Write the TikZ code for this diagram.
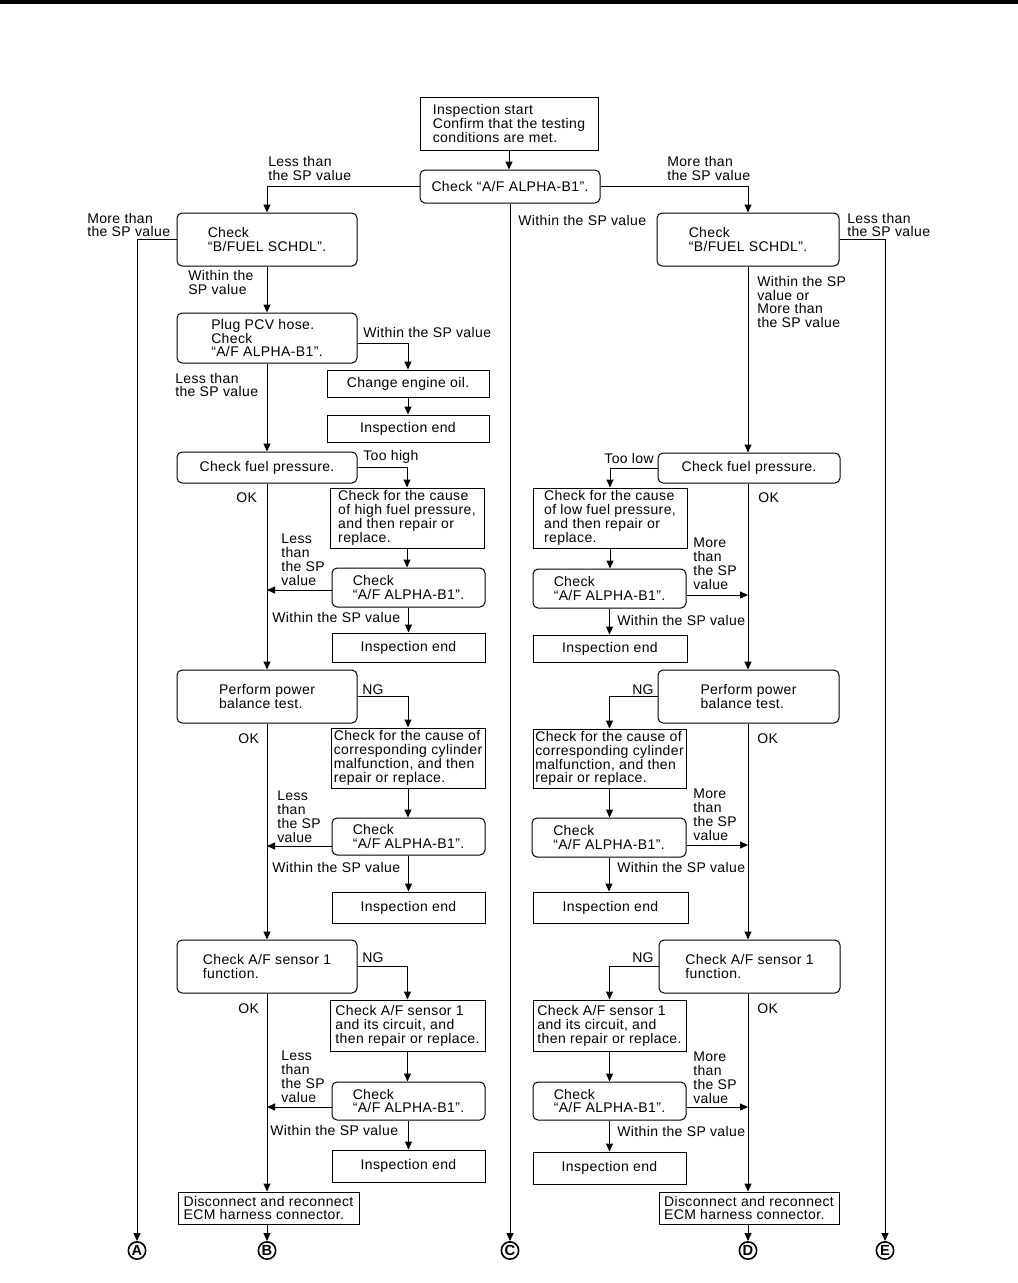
\documentclass[tikz,border=0pt]{standalone}
\usepackage{fontspec}
\setmainfont{Liberation Sans}[LetterSpace=2.7]
\usetikzlibrary{arrows.meta,calc}
\begin{document}
\begin{tikzpicture}[x=0.75pt,y=-0.75pt,
  font=\fontsize{10.5}{10.4}\selectfont,
  bx/.style 2 args={minimum width=#1*0.75pt, minimum height=#2*0.75pt},
  rbox/.style={draw, rounded corners=3.75pt, line width=0.75pt, align=left, inner sep=0pt},
  sbox/.style={draw, line width=0.75pt, align=left, inner sep=0pt},
  lbl/.style={anchor=west, align=left, inner sep=0pt},
  lble/.style={anchor=east, align=right, inner sep=0pt},
  arr/.style={-{Triangle[length=6pt,width=5.25pt]}, line width=0.75pt},
  ln/.style={line width=0.75pt},
  letter/.style={circle, draw, line width=1.2pt, inner sep=0pt, minimum size=13pt, font=\bfseries\fontsize{11}{11}\selectfont}]
\useasboundingbox (0,0) rectangle (1018,1283);
\fill (0,0) rectangle (1018,4);

% ---------- top ----------
\node[sbox, bx={178}{53}] (start) at (509,123.5) {Inspection start\\Confirm that the testing\\conditions are met.};
\node[rbox, bx={180}{33}] (chk0) at (510,186.5) {Check “A/F ALPHA-B1”.};

% ---------- left column ----------
\node[rbox, bx={180}{53}] (bfL) at (267,239.5) {Check\\“B/FUEL SCHDL”.};
\node[rbox, bx={180}{50}] (pcv) at (267,338) {Plug PCV hose.\\Check\\“A/F ALPHA-B1”.};
\node[sbox, bx={162}{27}] (oil) at (408,383.5) {Change engine oil.};
\node[sbox, bx={162}{27}] (endL0) at (408,428.5) {Inspection end};
\node[rbox, bx={180}{31}] (fpL) at (267,467.5) {Check fuel pressure.};
\node[sbox, bx={154}{60}] (hiL) at (407,518) {Check for the cause\\of high fuel pressure,\\and then repair or\\replace.};
\node[rbox, bx={153}{39}] (caL1) at (408.5,587.5) {Check\\“A/F ALPHA-B1”.};
\node[sbox, bx={153}{29}] (endL1) at (408.5,647.5) {Inspection end};
\node[rbox, bx={180}{53}] (pbL) at (267,696.5) {Perform power\\balance test.};
\node[sbox, bx={154}{60}] (cyL) at (408,758) {Check for the cause of\\corresponding cylinder\\malfunction, and then\\repair or replace.};
\node[rbox, bx={153}{37}] (caL2) at (408.5,836.5) {Check\\“A/F ALPHA-B1”.};
\node[sbox, bx={153}{31}] (endL2) at (408.5,907.5) {Inspection end};
\node[rbox, bx={180}{53}] (sfL) at (267,966.5) {Check A/F sensor 1\\function.};
\node[sbox, bx={155}{51}] (scL) at (407.5,1025.5) {Check A/F sensor 1\\and its circuit, and\\then repair or replace.};
\node[rbox, bx={153}{38}] (caL3) at (408.5,1101) {Check\\“A/F ALPHA-B1”.};
\node[sbox, bx={153}{32}] (endL3) at (408.5,1166) {Inspection end};
\node[sbox, bx={181}{32}] (dcL) at (268.5,1208) {Disconnect and reconnect\\ECM harness connector.};

% ---------- right column ----------
\node[rbox, bx={182}{53}] (bfR) at (748,239.5) {Check\\“B/FUEL SCHDL”.};
\node[rbox, bx={182}{30}] (fpR) at (749,468) {Check fuel pressure.};
\node[sbox, bx={154}{60}] (loR) at (610,518) {Check for the cause\\of low fuel pressure,\\and then repair or\\replace.};
\node[rbox, bx={153}{39}] (caR1) at (609.5,588.5) {Check\\“A/F ALPHA-B1”.};
\node[sbox, bx={154}{27}] (endR1) at (610,648.5) {Inspection end};
\node[rbox, bx={181}{53}] (pbR) at (748.5,696.5) {Perform power\\balance test.};
\node[sbox, bx={153}{59}] (cyR) at (609.5,758.5) {Check for the cause of\\corresponding cylinder\\malfunction, and then\\repair or replace.};
\node[rbox, bx={154}{39}] (caR2) at (609,837.5) {Check\\“A/F ALPHA-B1”.};
\node[sbox, bx={155}{31}] (endR2) at (610.5,907.5) {Inspection end};
\node[rbox, bx={181}{53}] (sfR) at (749.5,966.5) {Check A/F sensor 1\\function.};
\node[sbox, bx={153}{51}] (scR) at (609.5,1025.5) {Check A/F sensor 1\\and its circuit, and\\then repair or replace.};
\node[rbox, bx={153}{38}] (caR3) at (609.5,1101) {Check\\“A/F ALPHA-B1”.};
\node[sbox, bx={153}{32}] (endR3) at (609.5,1168) {Inspection end};
\node[sbox, bx={180}{32}] (dcR) at (749,1208) {Disconnect and reconnect\\ECM harness connector.};

% ---------- end letters ----------
\node[letter] (A) at (137,1250.5) {A};
\node[letter] (B) at (267,1250.5) {B};
\node[letter] (C) at (510,1250.5) {C};
\node[letter] (D) at (748,1250.5) {D};
\node[letter] (E) at (885,1250.5) {E};

% junctions on main lines
\coordinate (jL1) at (267,590);
\coordinate (jL2) at (267,846);
\coordinate (jL3) at (267,1107);
\coordinate (jR1) at (748,595);
\coordinate (jR2) at (748,845);
\coordinate (jR3) at (748,1107);

% ---------- connectors: top ----------
\draw[arr] (start.south) -- (start.south |- chk0.north);
\draw[arr] (chk0.west) -| (bfL.north);
\draw[arr] (chk0.east) -| (bfR.north);
\draw[arr] (chk0.south) -- (C.north);
\draw[arr] (bfL.west) -| (A.north);
\draw[arr] (bfR.east) -| (E.north);

% ---------- connectors: left ----------
\draw[arr] (bfL.south) -- (bfL.south |- pcv.north);
\draw[arr] ($(pcv.east)+(0,5)$) -| (oil.north);
\draw[arr] (oil.south) -- (oil.south |- endL0.north);
\draw[arr] (pcv.south) -- (pcv.south |- fpL.north);
\draw[arr] (fpL.east) -| (hiL.north);
\draw[arr] (hiL.south) -- (hiL.south |- caL1.north);
\draw[arr] (caL1.west |- jL1) -- (jL1);
\draw[arr] (caL1.south) -- (caL1.south |- endL1.north);
\draw[arr] (fpL.south) -- (fpL.south |- pbL.north);
\draw[arr] (pbL.east) -| (cyL.north);
\draw[arr] (cyL.south) -- (cyL.south |- caL2.north);
\draw[arr] (caL2.west |- jL2) -- (jL2);
\draw[arr] (caL2.south) -- (caL2.south |- endL2.north);
\draw[arr] (pbL.south) -- (pbL.south |- sfL.north);
\draw[arr] (sfL.east) -| (scL.north);
\draw[arr] (scL.south) -- (scL.south |- caL3.north);
\draw[arr] (caL3.west |- jL3) -- (jL3);
\draw[arr] (caL3.south) -- (caL3.south |- endL3.north);
\draw[arr] (sfL.south) -- (sfL.south |- dcL.north);
\draw[arr] (B.north |- dcL.south) -- (B.north);

% ---------- connectors: right ----------
\draw[arr] (bfR.south) -- (bfR.south |- fpR.north);
\draw[arr] (fpR.west) -| (loR.north);
\draw[arr] (loR.south) -- (loR.south |- caR1.north);
\draw[arr] (caR1.east |- jR1) -- (jR1);
\draw[arr] (caR1.south) -- (caR1.south |- endR1.north);
\draw[arr] (bfR.south |- fpR.south) -- (bfR.south |- pbR.north);
\draw[arr] (pbR.west) -| (cyR.north);
\draw[arr] (cyR.south) -- (cyR.south |- caR2.north);
\draw[arr] (caR2.east |- jR2) -- (jR2);
\draw[arr] (caR2.south) -- (caR2.south |- endR2.north);
\draw[arr] (bfR.south |- pbR.south) -- (bfR.south |- sfR.north);
\draw[arr] (sfR.west) -| (scR.north);
\draw[arr] (scR.south) -- (scR.south |- caR3.north);
\draw[arr] (caR3.east |- jR3) -- (jR3);
\draw[arr] (caR3.south) -- (caR3.south |- endR3.north);
\draw[arr] (bfR.south |- sfR.south) -- (bfR.south |- dcR.north);
\draw[arr] (D.north |- dcR.south) -- (D.north);

% ---------- labels ----------
\node[lbl] (t1) at (268,168.5) {Less than\\the SP value};
\node[lbl] (t2) at (667,168.5) {More than\\the SP value};
\node[lbl] (t3) at (518,220) {Within the SP value};
\node[lbl] (t4) at (87,225) {More than\\the SP value};
\node[lbl] (t5) at (847,225) {Less than\\the SP value};
\node[lbl] (t6) at (188,282.5) {Within the\\SP value};
\node[lbl] (t7) at (757,302) {Within the SP\\value or\\More than\\the SP value};
\node[lbl] (t8) at (363,332) {Within the SP value};
\node[lbl] (t9) at (175,385) {Less than\\the SP value};
\node[lbl] (t10) at (363,457) {Too high};
\node[lble] (t11) at (654,458) {Too low};
\node[lbl] (t12) at (236,498) {OK};
\node[lbl] (t13) at (758,498) {OK};
\node[lbl] (t14) at (281,559.5) {Less\\than\\the SP\\value};
\node[lbl] (t15) at (693,564) {More\\than\\the SP\\value};
\node[lbl] (t16) at (272,617) {Within the SP value};
\node[lbl] (t17) at (617,620) {Within the SP value};
\node[lbl] (t18) at (362,690) {NG};
\node[lbl] (t19) at (632,690) {NG};
\node[lbl] (t20) at (238,739) {OK};
\node[lbl] (t21) at (757,739) {OK};
\node[lbl] (t22) at (277,817) {Less\\than\\the SP\\value};
\node[lbl] (t23) at (693,815) {More\\than\\the SP\\value};
\node[lbl] (t24) at (272,867) {Within the SP value};
\node[lbl] (t25) at (617,867) {Within the SP value};
\node[lbl] (t26) at (362,958) {NG};
\node[lbl] (t27) at (632,958) {NG};
\node[lbl] (t28) at (238,1009) {OK};
\node[lbl] (t29) at (757,1009) {OK};
\node[lbl] (t30) at (281,1077) {Less\\than\\the SP\\value};
\node[lbl] (t31) at (693,1077.5) {More\\than\\the SP\\value};
\node[lbl] (t32) at (270,1130) {Within the SP value};
\node[lbl] (t33) at (617,1131) {Within the SP value};
\end{tikzpicture}
\end{document}
